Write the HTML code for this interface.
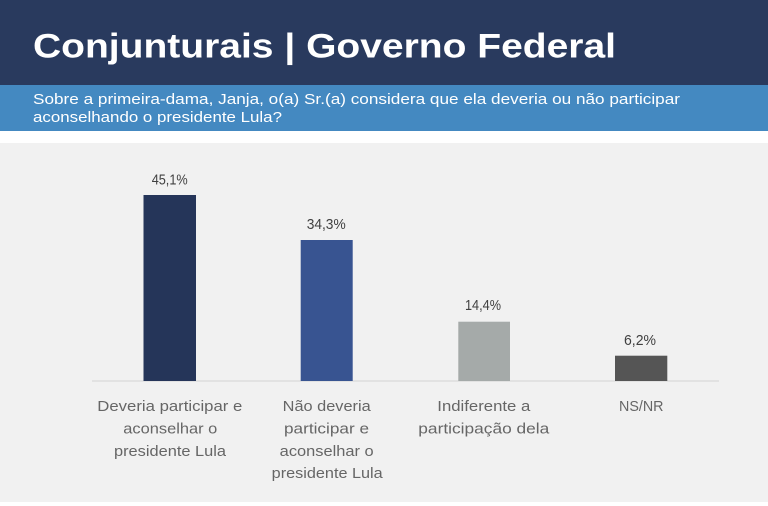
<!DOCTYPE html>
<html>
<head>
<meta charset="utf-8">
<style>
html,body{margin:0;padding:0;background:#ffffff;}
body{width:768px;height:506px;overflow:hidden;}
svg{display:block;}
</style>
</head>
<body>
<svg width="768" height="506" viewBox="0 0 768 506" xmlns="http://www.w3.org/2000/svg">
  <rect x="0" y="0" width="768" height="506" fill="#ffffff"/>
  <rect x="0" y="0" width="768" height="85" fill="#293a5e"/>
  <rect x="0" y="85" width="768" height="46" fill="#4489c1"/>
  <rect x="0" y="143" width="768" height="359" fill="#f1f1f1"/>

  <text x="33" y="57.5" font-family="'Liberation Sans', sans-serif" font-weight="bold" font-size="34" fill="#ffffff" textLength="583" lengthAdjust="spacingAndGlyphs">Conjunturais | Governo Federal</text>

  <g font-family="'Liberation Sans', sans-serif" font-size="14.5" fill="#ffffff">
    <text x="33" y="104" textLength="647" lengthAdjust="spacingAndGlyphs">Sobre a primeira-dama, Janja, o(a) Sr.(a) considera que ela deveria ou não participar</text>
    <text x="33" y="122" textLength="249" lengthAdjust="spacingAndGlyphs">aconselhando o presidente Lula?</text>
  </g>

  <line x1="92" y1="381" x2="719" y2="381" stroke="#d9d9d9" stroke-width="1.2"/>

  <rect x="143.5" y="195" width="52.5" height="186" fill="#253559"/>
  <rect x="300.7" y="240" width="52" height="141" fill="#385491"/>
  <rect x="458.3" y="321.7" width="51.7" height="59.3" fill="#a5aaa9"/>
  <rect x="615" y="355.7" width="52.3" height="25.3" fill="#555555"/>

  <g font-family="'Liberation Sans', sans-serif" font-size="15" fill="#404040">
    <text x="151.7" y="184.5" textLength="36" lengthAdjust="spacingAndGlyphs">45,1%</text>
    <text x="306.7" y="229" textLength="39" lengthAdjust="spacingAndGlyphs">34,3%</text>
    <text x="465" y="310" textLength="36" lengthAdjust="spacingAndGlyphs">14,4%</text>
    <text x="624" y="345" textLength="32" lengthAdjust="spacingAndGlyphs">6,2%</text>
  </g>

  <g font-family="'Liberation Sans', sans-serif" font-size="15" fill="#666666">
    <text x="97.3" y="411" textLength="145" lengthAdjust="spacingAndGlyphs">Deveria participar e</text>
    <text x="123.3" y="433.3" textLength="94" lengthAdjust="spacingAndGlyphs">aconselhar o</text>
    <text x="114" y="455.8" textLength="112" lengthAdjust="spacingAndGlyphs">presidente Lula</text>

    <text x="282.7" y="411" textLength="88" lengthAdjust="spacingAndGlyphs">Não deveria</text>
    <text x="284" y="433.3" textLength="85" lengthAdjust="spacingAndGlyphs">participar e</text>
    <text x="279.7" y="455.8" textLength="94" lengthAdjust="spacingAndGlyphs">aconselhar o</text>
    <text x="271.7" y="478" textLength="111" lengthAdjust="spacingAndGlyphs">presidente Lula</text>

    <text x="437.3" y="411" textLength="93" lengthAdjust="spacingAndGlyphs">Indiferente a</text>
    <text x="418.3" y="433.3" textLength="131" lengthAdjust="spacingAndGlyphs">participação dela</text>

    <text x="619" y="411" textLength="44.5" lengthAdjust="spacingAndGlyphs">NS/NR</text>
  </g>
</svg>
</body>
</html>
